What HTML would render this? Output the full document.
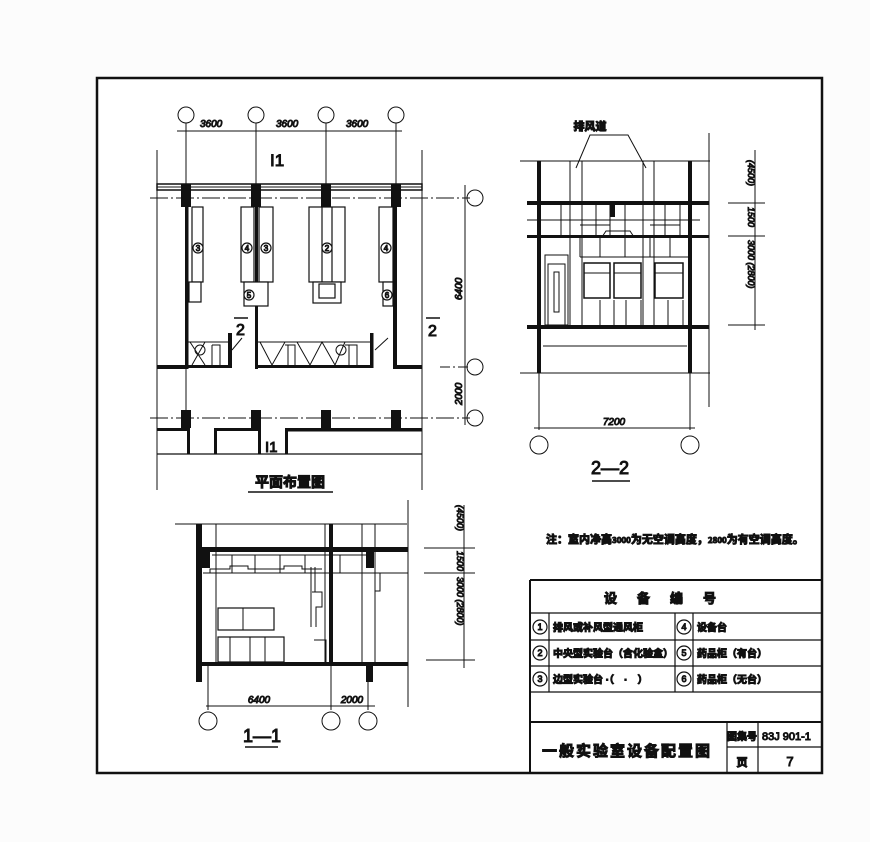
<!DOCTYPE html>
<html><head><meta charset="utf-8">
<style>
html,body{margin:0;padding:0;background:#fff;}
svg{display:block;}
text{font-family:"Liberation Sans","Noto Sans CJK SC",sans-serif;fill:#111;}
.cj{font-family:"Noto Sans CJK SC","WenQuanYi Zen Hei",sans-serif;font-weight:bold;}
</style></head><body>
<svg width="870" height="842" viewBox="0 0 870 842" xmlns="http://www.w3.org/2000/svg" stroke="#111" fill="none">
<rect x="0" y="0" width="870" height="842" fill="#fcfcfc" stroke="none"/>
<rect x="97" y="78" width="725" height="695" stroke-width="2.5" fill="#fff"/>

<g stroke-width="1">
 <circle cx="186" cy="115" r="8"/><circle cx="256" cy="115" r="8"/><circle cx="326" cy="115" r="8"/><circle cx="396" cy="115" r="8"/>
 <line x1="177" y1="131" x2="402" y2="131"/>
 <line x1="186" y1="123" x2="186" y2="410"/><line x1="256" y1="123" x2="256" y2="190"/><line x1="326" y1="123" x2="326" y2="190"/><line x1="396" y1="123" x2="396" y2="190"/>
 <line x1="157" y1="150" x2="157" y2="490"/><line x1="422" y1="150" x2="422" y2="490"/>
 <line x1="150" y1="198" x2="470" y2="198" stroke-dasharray="18,3,2,3"/>
 <line x1="440" y1="367" x2="470" y2="367" stroke-dasharray="10,3,2,3"/>
 <line x1="150" y1="418" x2="470" y2="418" stroke-dasharray="18,3,2,3"/>
 <line x1="465" y1="185" x2="465" y2="425"/>
 <circle cx="475" cy="198" r="8"/><circle cx="475" cy="367" r="8"/><circle cx="475" cy="418" r="8"/>
</g>
<text x="200" y="127" font-size="10" font-style="italic">3600</text>
<text x="276" y="127" font-size="10" font-style="italic">3600</text>
<text x="346" y="127" font-size="10" font-style="italic">3600</text>
<text x="270" y="166" font-size="17">I1</text>
<text x="462" y="300" font-size="10" font-style="italic" transform="rotate(-90 462 300)">6400</text>
<text x="462" y="405" font-size="10" font-style="italic" transform="rotate(-90 462 405)">2000</text>
<rect x="157" y="184" width="265" height="6" fill="#fff" stroke-width="1.5"/>
<line x1="157" y1="187" x2="422" y2="187" stroke-width="1"/>
<g fill="#111" stroke="none">
 <rect x="181" y="184" width="10" height="23"/><rect x="251" y="184" width="10" height="23"/><rect x="321" y="184" width="10" height="23"/><rect x="391" y="184" width="10" height="23"/>
 <rect x="185" y="205" width="3.5" height="164"/><rect x="255" y="205" width="3" height="164"/><rect x="393" y="205" width="4" height="164"/>
 <rect x="157" y="365" width="31" height="4"/><rect x="188" y="365" width="44" height="3"/><rect x="255" y="365" width="118" height="3"/><rect x="393" y="365" width="29" height="4"/>
 <rect x="228" y="333" width="4" height="35"/><rect x="370" y="333" width="3.5" height="35"/>
 <rect x="181" y="410" width="10" height="18"/><rect x="251" y="410" width="10" height="18"/><rect x="321" y="410" width="10" height="18"/><rect x="391" y="410" width="10" height="18"/>
 <rect x="157" y="428" width="30" height="3"/><rect x="214" y="428" width="46" height="3"/><rect x="286" y="428" width="136" height="3.5"/>
 <rect x="187" y="428" width="3" height="26"/><rect x="214" y="428" width="3" height="26"/><rect x="258" y="428" width="3" height="26"/><rect x="285" y="428" width="3" height="26"/>
</g>
<line x1="157" y1="454" x2="422" y2="454" stroke-width="1.2"/>
<text x="265" y="452" font-size="15">I1</text>
<g stroke-width="1.2" fill="#fff">
 <rect x="192" y="207" width="11" height="75"/><rect x="189" y="282" width="12" height="20"/>
 <rect x="241" y="207" width="13" height="75"/><rect x="259" y="207" width="14" height="75"/>
 <rect x="244" y="282" width="24" height="24"/>
 <rect x="309" y="207" width="36" height="75"/><line x1="322" y1="207" x2="322" y2="282"/><line x1="332" y1="207" x2="332" y2="282"/>
 <rect x="313" y="282" width="28" height="21"/><rect x="319" y="284" width="16" height="14"/>
 <rect x="379" y="207" width="14" height="75"/><rect x="383" y="282" width="10" height="24"/>
 <circle cx="198" cy="248" r="5"/><circle cx="247" cy="248" r="5"/><circle cx="266" cy="248" r="5"/><circle cx="327" cy="248" r="5"/><circle cx="386" cy="248" r="5"/>
 <circle cx="249" cy="295" r="5"/><circle cx="387" cy="295" r="5"/>
</g>
<g font-size="8" text-anchor="middle">
 <text x="198" y="251">3</text><text x="247" y="251">4</text><text x="266" y="251">3</text><text x="327" y="251">2</text><text x="386" y="251">4</text><text x="249" y="298">5</text><text x="387" y="298">6</text>
</g>
<g stroke-width="1">
 <line x1="188" y1="342" x2="229" y2="342"/>
 <line x1="258" y1="342" x2="370" y2="342"/>
 <path d="M190 342 L205 365 M205 342 L192 365 M212 345 h8 v20 M212 345 v20"/>
 <circle cx="200" cy="350" r="5"/>
 <path d="M260 342 L272 365 L285 342 M285 345 h10 v20 M288 345 v20 M297 342 L310 365 L322 342 L335 365 L345 342 M345 345 h12 v20 M349 345 v20"/>
 <circle cx="341" cy="350" r="5"/>
 <path d="M232 350 L242 338 M375 350 L388 338"/>
</g>
<text x="236" y="335" font-size="16">2</text><line x1="234" y1="318" x2="248" y2="318" stroke-width="1.5"/>
<text x="428" y="336" font-size="16">2</text><line x1="426" y1="318" x2="440" y2="318" stroke-width="1.5"/>
<text x="290" y="487" font-size="14" class="cj" text-anchor="middle">平面布置图</text>
<line x1="248" y1="492" x2="333" y2="492" stroke-width="1.5"/>

<g stroke-width="1">
 <line x1="520" y1="161" x2="710" y2="161"/>
 <line x1="709" y1="133" x2="709" y2="407"/>
 <line x1="520" y1="373" x2="710" y2="373"/>
 <line x1="543" y1="346" x2="687" y2="346"/>
 <line x1="539" y1="373" x2="539" y2="430"/><line x1="690" y1="373" x2="690" y2="430"/>
 <line x1="534" y1="428" x2="695" y2="428"/>
 <circle cx="539" cy="445" r="9"/><circle cx="690" cy="445" r="9"/>
 <line x1="570" y1="161" x2="570" y2="325"/><line x1="582" y1="161" x2="582" y2="325"/>
 <line x1="643" y1="161" x2="643" y2="325"/><line x1="654" y1="161" x2="654" y2="325"/>
 <line x1="527" y1="220" x2="700" y2="220"/>
 <path d="M576 168 L590 135 L628 135 L646 168"/>
 <path d="M561 203 v34 M596 203 v34 M610 203 v34 M625 203 v34 M665 203 v34 M680 203 v34"/>
 <path d="M580 237 v20 M600 237 v20 M625 237 v20 M650 237 v20 M670 237 v20"/>
 <path d="M580 257 H690 M600 300 v25 M614 300 v25 M626 300 v25 M641 300 v25 M668 300 v25 M683 300 v25"/>
 <path d="M580 225 h30 v9 M650 225 h30 v9 M602 237 l4 -6 h24 l4 6"/>
 <rect x="584" y="263" width="26" height="35" stroke-width="1.5"/><line x1="584" y1="273" x2="610" y2="273"/>
 <rect x="614" y="263" width="27" height="35" stroke-width="1.5"/><line x1="614" y1="273" x2="641" y2="273"/>
 <rect x="655" y="263" width="28" height="35" stroke-width="1.5"/><line x1="655" y1="273" x2="683" y2="273"/>
 <rect x="545" y="255" width="23" height="70"/><rect x="548" y="264" width="17" height="61"/><rect x="554" y="272" width="5" height="40"/>
 <line x1="755" y1="150" x2="755" y2="330"/>
 <line x1="728" y1="203" x2="765" y2="203"/><line x1="728" y1="236" x2="765" y2="236"/><line x1="728" y1="325" x2="765" y2="325"/>
</g>
<g fill="#111" stroke="none">
 <rect x="537" y="161" width="4" height="212"/><rect x="688" y="161" width="4" height="212"/>
 <rect x="527" y="201" width="182" height="4"/><rect x="527" y="235" width="182" height="3"/><rect x="527" y="325" width="182" height="4"/>
 <rect x="610" y="203" width="5" height="14"/>
</g>
<text x="590" y="130" font-size="11" class="cj" text-anchor="middle">排风道</text>
<text x="614" y="425" font-size="10" font-style="italic" text-anchor="middle">7200</text>
<text x="610" y="474" font-size="18" text-anchor="middle">2—2</text>
<line x1="592" y1="481" x2="630" y2="481" stroke-width="1.5"/>
<g font-size="9" font-style="italic">
 <text x="748" y="160" transform="rotate(90 748 160)">(4500)</text>
 <text x="748" y="207" transform="rotate(90 748 207)">1500</text>
 <text x="748" y="240" transform="rotate(90 748 240)">3000 (2800)</text>
</g>

<g stroke-width="1">
 <line x1="175" y1="524" x2="407" y2="524"/>
 <line x1="408" y1="500" x2="408" y2="707"/>
 <line x1="203" y1="573" x2="408" y2="573"/>
 <line x1="216" y1="524" x2="216" y2="665"/><line x1="325" y1="524" x2="325" y2="665"/><line x1="362" y1="524" x2="362" y2="665"/><line x1="375" y1="524" x2="375" y2="665"/>
 <path d="M212 555 h160 M232 555 v18 M255 555 v18 M280 555 v18 M305 555 v18 M340 555 v18"/>
 <path d="M210 573 v-4 h20 v-3 h18 v3 h36 v-3 h18 v3 h20"/>
 <rect x="218" y="608" width="56" height="22" stroke-width="1.2"/><line x1="243" y1="608" x2="243" y2="630"/>
 <rect x="218" y="637" width="66" height="25" stroke-width="1.2"/><path d="M230 637 v25 M250 637 v25 M265 637 v25"/>
 <path d="M311 567 v60 M315 567 v25 M312 592 h10 v15 h-6 v20 M314 640 h12 v25"/>
 <path d="M375 573 v18 h5 v-18"/>
 <line x1="208" y1="665" x2="208" y2="710"/><line x1="331" y1="665" x2="331" y2="710"/><line x1="368" y1="665" x2="368" y2="710"/>
 <line x1="206" y1="706" x2="375" y2="706"/>
 <circle cx="208" cy="721" r="9"/><circle cx="331" cy="721" r="9"/><circle cx="368" cy="721" r="9"/>
 <line x1="464" y1="505" x2="464" y2="668"/>
 <line x1="424" y1="548" x2="475" y2="548"/><line x1="424" y1="573" x2="475" y2="573"/><line x1="426" y1="660" x2="475" y2="660"/>
</g>
<g fill="#111" stroke="none">
 <rect x="196" y="524" width="6" height="158"/>
 <rect x="196" y="547" width="212" height="5"/>
 <rect x="202" y="662" width="206" height="4"/>
 <rect x="329" y="524" width="4" height="142"/>
 <rect x="366" y="550" width="8" height="18"/><rect x="202" y="550" width="8" height="18"/>
 <rect x="366" y="666" width="7" height="16"/>
</g>
<text x="259" y="703" font-size="10" font-style="italic" text-anchor="middle">6400</text>
<text x="352" y="703" font-size="10" font-style="italic" text-anchor="middle">2000</text>
<text x="262" y="742" font-size="18" text-anchor="middle">1—1</text>
<line x1="245" y1="747" x2="278" y2="747" stroke-width="1.5"/>
<g font-size="9" font-style="italic">
 <text x="457" y="505" transform="rotate(90 457 505)">(4500)</text>
 <text x="457" y="551" transform="rotate(90 457 551)">1500</text>
 <text x="457" y="577" transform="rotate(90 457 577)">3000 (2800)</text>
</g>

<text x="546" y="543" font-size="11" class="cj">注：室内净高<tspan font-size="8">3000</tspan>为无空调高度，<tspan font-size="8">2800</tspan>为有空调高度。</text>

<g stroke-width="2">
 <line x1="530" y1="580" x2="822" y2="580"/>
 <line x1="530" y1="580" x2="530" y2="773"/>
 <line x1="530" y1="722" x2="822" y2="722"/>
</g>
<g stroke-width="1.2">
 <line x1="530" y1="613" x2="822" y2="613"/>
 <line x1="530" y1="640" x2="822" y2="640"/>
 <line x1="530" y1="666" x2="822" y2="666"/>
 <line x1="530" y1="692" x2="822" y2="692"/>
 <line x1="549" y1="613" x2="549" y2="692"/>
 <line x1="675" y1="613" x2="675" y2="692"/>
 <line x1="693" y1="613" x2="693" y2="692"/>
 <line x1="727" y1="722" x2="727" y2="773"/>
 <line x1="758" y1="722" x2="758" y2="773"/>
 <line x1="727" y1="747" x2="822" y2="747"/>
 <circle cx="540" cy="627" r="7"/><circle cx="540" cy="653" r="7"/><circle cx="540" cy="679" r="7"/>
 <circle cx="684" cy="627" r="7"/><circle cx="684" cy="653" r="7"/><circle cx="684" cy="679" r="7"/>
</g>
<g font-size="9" text-anchor="middle">
 <text x="540" y="630">1</text><text x="540" y="656">2</text><text x="540" y="682">3</text>
 <text x="684" y="630">4</text><text x="684" y="656">5</text><text x="684" y="682">6</text>
</g>
<text x="670" y="603" font-size="13" class="cj" text-anchor="middle" letter-spacing="20">设备编号</text>
<g font-size="10" class="cj">
 <text x="553" y="631">排风或补风型通风柜</text>
 <text x="553" y="657">中央型实验台（含化验盒）</text>
 <text x="553" y="683">边型实验台 ·（　·　）</text>
 <text x="697" y="631">设备台</text>
 <text x="697" y="657">药品柜（有台）</text>
 <text x="697" y="683">药品柜（无台）</text>
</g>
<text x="627" y="756" font-size="15" class="cj" text-anchor="middle" letter-spacing="2">一般实验室设备配置图</text>
<text x="742" y="740" font-size="10" class="cj" text-anchor="middle">图集号</text>
<text x="742" y="766" font-size="11" class="cj" text-anchor="middle">页</text>
<text x="762" y="740" font-size="11" fill="#444">83J 901-1</text>
<text x="790" y="766" font-size="13" text-anchor="middle">7</text>
</svg>
</body></html>
